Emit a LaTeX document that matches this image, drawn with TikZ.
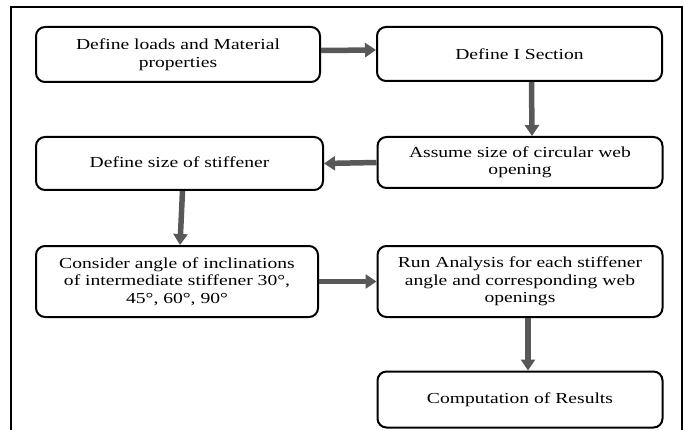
\documentclass[tikz,border=0pt]{standalone}
\usepackage{fontspec}
\setmainfont{Liberation Serif}[FakeStretch=1.28]
\usetikzlibrary{arrows.meta}

\definecolor{flowgray}{HTML}{585858}

\begin{document}
\begin{tikzpicture}[x=1pt,y=-1pt,
    box/.style={draw, line width=2pt, rounded corners=9pt, align=center,
      inner sep=0pt, font=\fontsize{15.3}{17.5}\selectfont},
    flow/.style={draw=flowgray, line width=5.5pt,
      -{Triangle[width=14pt,length=11pt]}}]
  \useasboundingbox (0,0) rectangle (684,430);
  \draw[line width=2pt] (11,440) -- (11,7) -- (682,7) -- (682,440);

  \node[box, minimum width=284pt, minimum height=55pt] (loads) at (178,54.5)
    {Define loads and Material\\properties};
  \node[box, minimum width=285pt, minimum height=54pt] (isec) at (519.5,54)
    {Define I Section};
  \node[box, minimum width=285pt, minimum height=51pt] (opening) at (520,162.5)
    {Assume size of circular web\\opening};
  \node[box, minimum width=287pt, minimum height=53pt] (stiff) at (179.5,163.5)
    {\raisebox{3pt}{Define size of stiffener}};
  \node[box, minimum width=282pt, minimum height=71pt] (angle) at (177,281.5)
    {Consider angle of inclinations\\of intermediate stiffener 30°,\\45°, 60°, 90°};
  \node[box, minimum width=285pt, minimum height=71pt] (run) at (520,281.5)
    {Run Analysis for each stiffener\\angle and corresponding web\\openings};
  \node[box, minimum width=285pt, minimum height=56pt] (result) at (520,399.5)
    {Computation of Results};

  % connectors
  \draw[flow] ([yshift=4pt]loads.east) -- ([yshift=4pt]isec.west);
  \draw[flow] ([xshift=12pt]isec.south) -- ([xshift=12pt]opening.north);
  \draw[flow] (opening.west) -- (stiff.east);
  \draw[flow] ([xshift=3pt]stiff.south) -- ([xshift=3pt]angle.north);
  \draw[flow] (angle.east) -- (run.west);
  \draw[flow] ([xshift=8pt]run.south) -- ([xshift=8pt]result.north);
\end{tikzpicture}
\end{document}
